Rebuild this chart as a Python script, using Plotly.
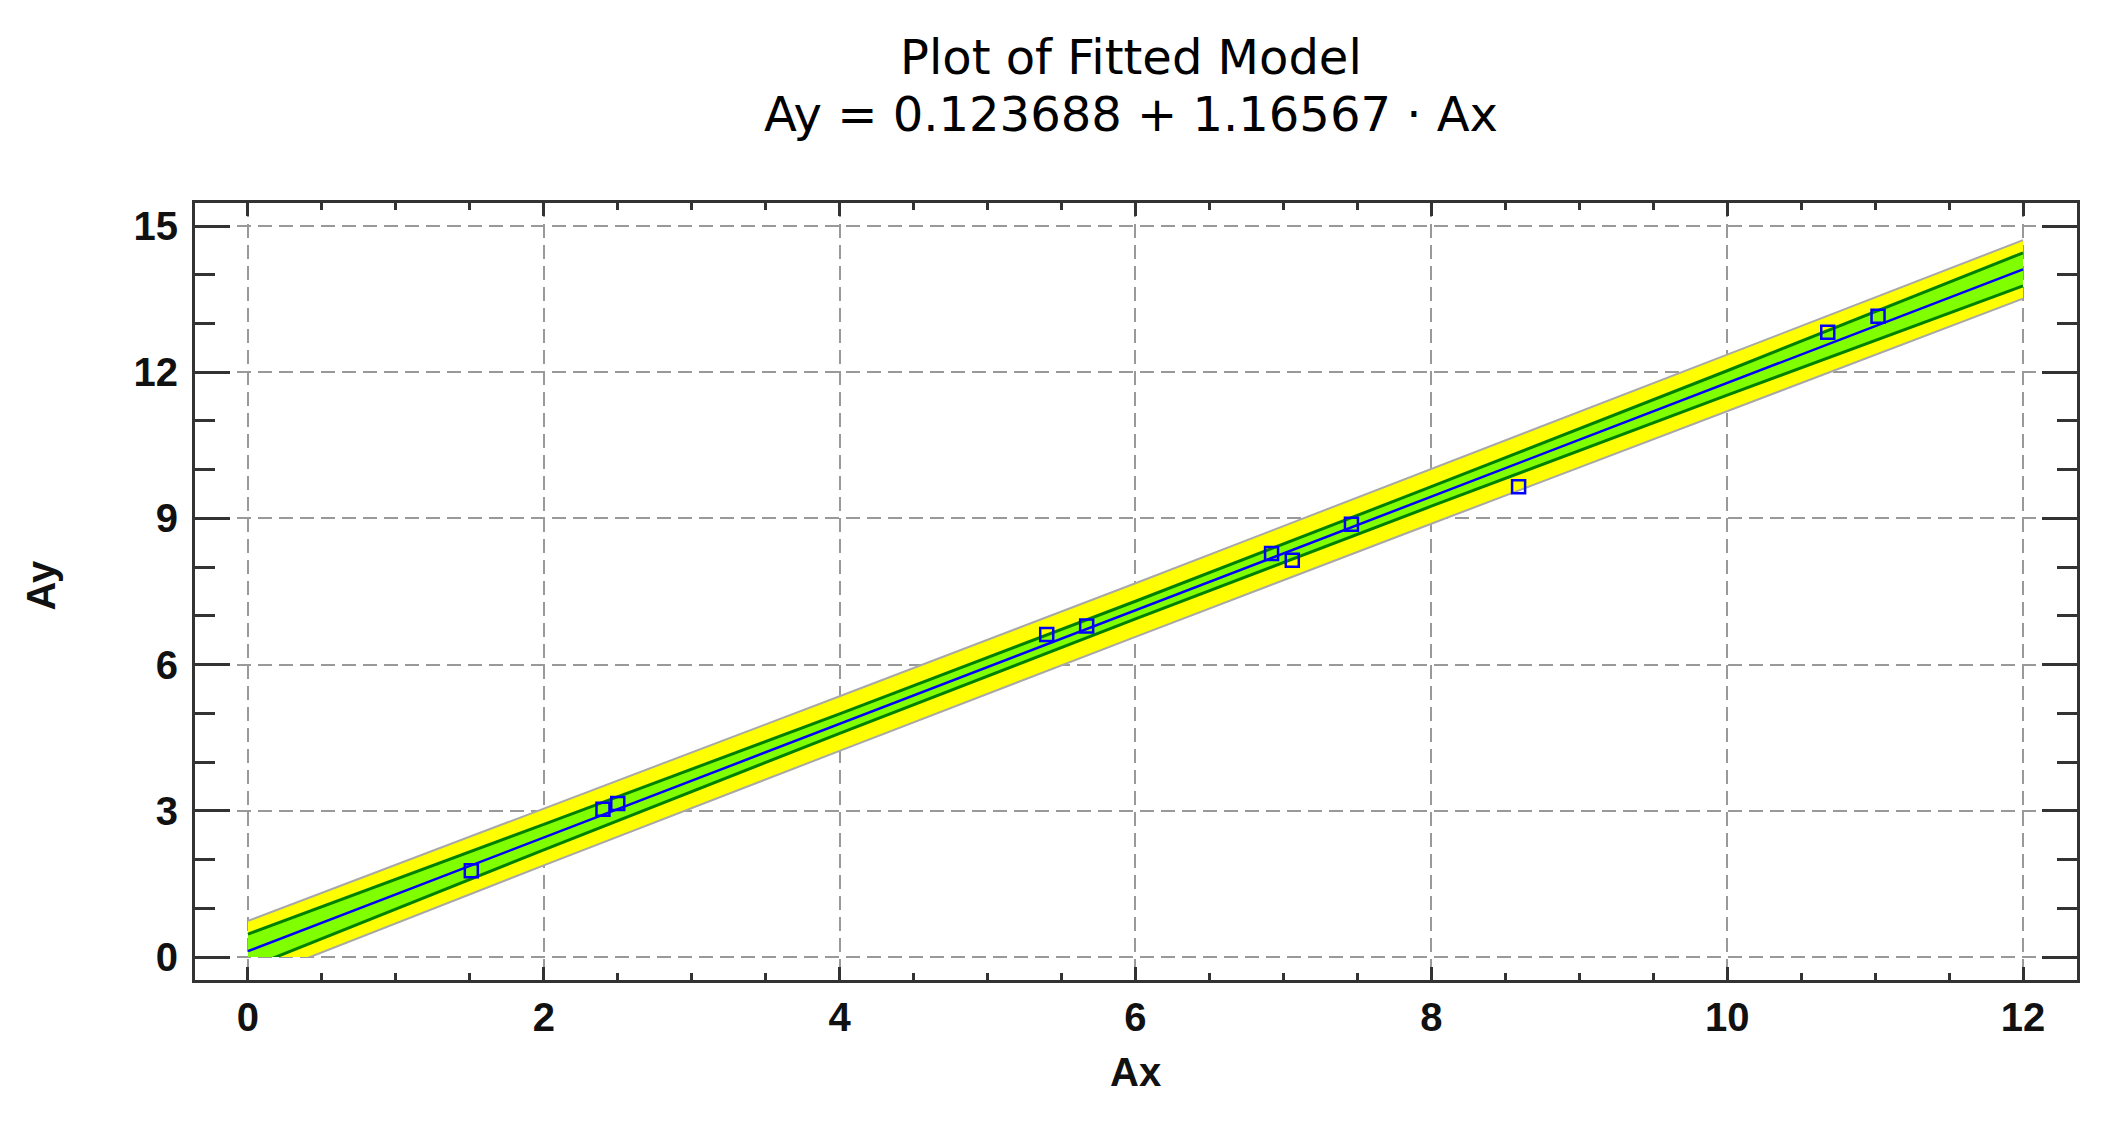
import plotly.graph_objects as go

ax_obs = [1.51, 2.40, 2.50, 5.40, 5.67, 6.92, 7.06, 7.46, 8.59, 10.68, 11.02]
ay_obs = [1.77, 3.03, 3.15, 6.62, 6.79, 8.28, 8.14, 8.88, 9.65, 12.82, 13.15]

# fitted line Ay = 0.123688 + 1.16567 * Ax, end points
fit_x = [0, 12]
fit_y = [0.12, 14.11]

# confidence / prediction limits, read at these Ax values
band_x = [0, 2, 4, 6, 8, 10, 12]
conf_upper = [0.47, 2.72, 4.99, 7.30, 9.65, 12.03, 14.45]
conf_lower = [-0.23, 2.20, 4.59, 6.94, 9.25, 11.53, 13.77]
pred_upper = [0.74, 3.04, 5.35, 7.67, 10.01, 12.36, 14.71]
pred_lower = [-0.50, 1.88, 4.23, 6.57, 8.89, 11.20, 13.51]

x_ticks = [0, 2, 4, 6, 8, 10, 12]
y_ticks = [0, 3, 6, 9, 12, 15]

x_lo, x_hi = -0.358, 12.365
y_lo, y_hi = -0.472, 15.472
d0 = (0 - y_lo) / (y_hi - y_lo)   # band area is clipped at Ay = 0

FRAME = "#333333"
GRID = "#999999"
tick_font = dict(family="Liberation Sans", size=40, color="#111111", weight="bold")

fig = go.Figure()

# empty trace so the framed main subplot gets drawn
fig.add_trace(go.Scatter(x=[], y=[], mode="markers", hoverinfo="skip"))

# prediction band (yellow, grey edges)
fig.add_trace(go.Scatter(x=band_x, y=pred_lower, mode="lines",
                         line=dict(color="#a8a8a8", width=2), xaxis="x2", yaxis="y2"))
fig.add_trace(go.Scatter(x=band_x, y=pred_upper, mode="lines", fill="tonexty",
                         fillcolor="#ffff00", line=dict(color="#a8a8a8", width=2),
                         xaxis="x2", yaxis="y2"))
# confidence band (green, dark green edges)
fig.add_trace(go.Scatter(x=band_x, y=conf_lower, mode="lines",
                         line=dict(color="#008000", width=3), xaxis="x2", yaxis="y2"))
fig.add_trace(go.Scatter(x=band_x, y=conf_upper, mode="lines", fill="tonexty",
                         fillcolor="#80ff00", line=dict(color="#008000", width=3),
                         xaxis="x2", yaxis="y2"))
# fitted line
fig.add_trace(go.Scatter(x=fit_x, y=fit_y, mode="lines",
                         line=dict(color="#0000ff", width=2.5), xaxis="x2", yaxis="y2"))
# observations
fig.add_trace(go.Scatter(x=ax_obs, y=ay_obs, mode="markers",
                         marker=dict(symbol="square-open", size=13, color="#0000ff",
                                     line=dict(width=2.5, color="#0000ff")),
                         xaxis="x2", yaxis="y2"))

fig.update_layout(
    width=2111, height=1123,
    margin=dict(l=195, r=34, t=203, b=143),
    paper_bgcolor="white", plot_bgcolor="rgba(0,0,0,0)",
    showlegend=False,
    xaxis=dict(range=[x_lo, x_hi], tickvals=x_ticks, ticks="inside", ticklen=13,
               tickwidth=3, tickcolor=FRAME, showline=True, linewidth=3, linecolor=FRAME,
               mirror="ticks", showgrid=True, gridcolor=GRID, gridwidth=2,
               griddash="14px,7px", zeroline=False, tickfont=tick_font,
               minor=dict(dtick=0.5, tick0=0, ticks="inside", ticklen=7, tickwidth=2.5,
                          tickcolor=FRAME, showgrid=False)),
    yaxis=dict(range=[y_lo, y_hi], tickvals=y_ticks, ticks="inside", ticklen=35,
               tickwidth=3, tickcolor=FRAME, showline=True, linewidth=3, linecolor=FRAME,
               mirror="ticks", showgrid=True, gridcolor=GRID, gridwidth=2,
               griddash="14px,7px", zeroline=False, tickfont=tick_font,
               ticklabelstandoff=6,
               minor=dict(dtick=1, tick0=0, ticks="inside", ticklen=20, tickwidth=2.5,
                          tickcolor=FRAME, showgrid=False)),
    xaxis2=dict(range=[x_lo, x_hi], domain=[0, 1], anchor="y2", visible=False),
    yaxis2=dict(range=[0, y_hi], domain=[d0, 1], anchor="x2", visible=False),
    annotations=[
        dict(text="Plot of Fitted Model", x=0.4973, y=1.1874, xref="paper", yref="paper",
             xanchor="center", yanchor="middle", showarrow=False,
             font=dict(family="DejaVu Sans", size=48, color="black")),
        dict(text="Ay = 0.123688 + 1.16567 · Ax", x=0.4973, y=1.1145, xref="paper",
             yref="paper", xanchor="center", yanchor="middle", showarrow=False,
             font=dict(family="DejaVu Sans", size=48, color="black")),
        dict(text="Ax", x=0.4995, y=-0.1178, xref="paper", yref="paper",
             xanchor="center", yanchor="middle", showarrow=False,
             font=dict(family="Liberation Sans", size=40, color="#111111", weight="bold")),
        dict(text="Ay", x=-0.0816, y=0.5084, xref="paper", yref="paper", textangle=-90,
             xanchor="center", yanchor="middle", showarrow=False,
             font=dict(family="Liberation Sans", size=40, color="#111111", weight="bold")),
    ],
)

fig.write_html("out.html", config={"displayModeBar": False},
               post_script="document.body.style.margin='0';")
